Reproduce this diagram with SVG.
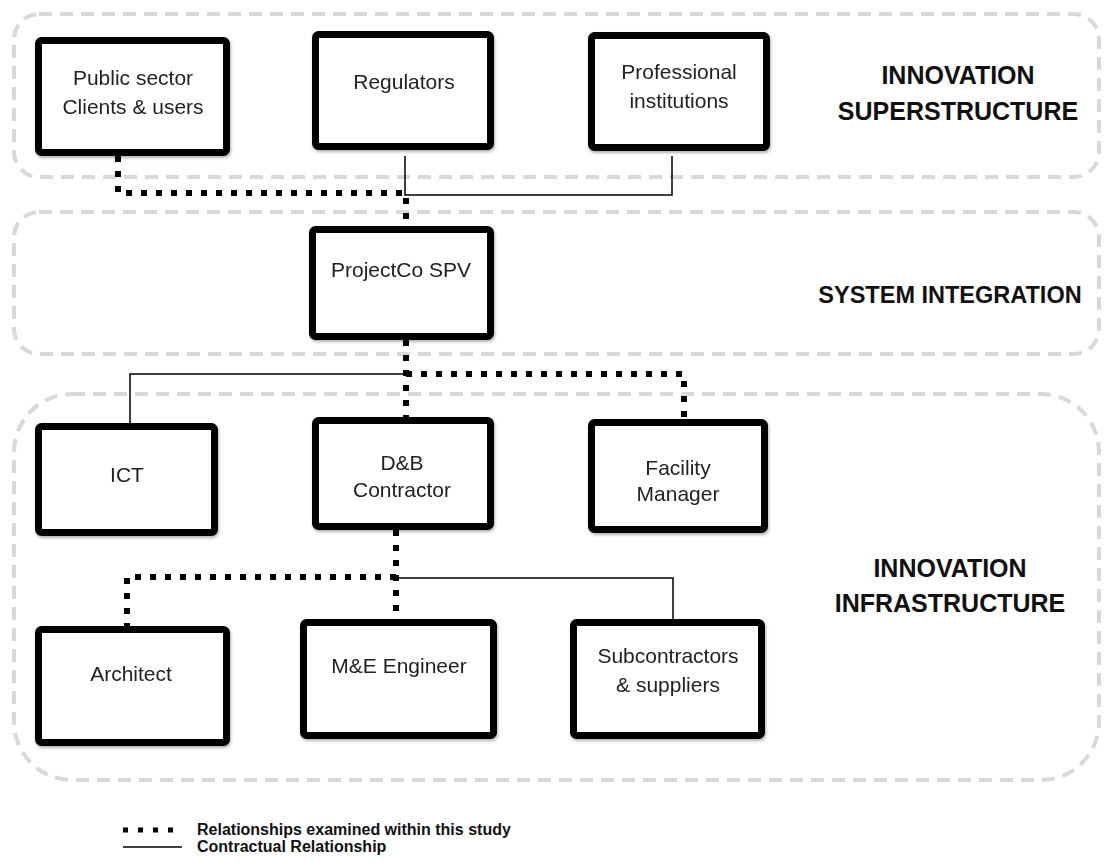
<svg xmlns="http://www.w3.org/2000/svg" width="1105" height="867" viewBox="0 0 1105 867">
<defs>
<filter id="sh" x="-10%" y="-10%" width="120%" height="130%">
<feDropShadow dx="1" dy="2" stdDeviation="1.5" flood-color="#000" flood-opacity="0.3"/>
</filter>
<style>
.panel{fill:none;stroke:#d9d9d9;stroke-width:4;stroke-dasharray:13 8}
.box{fill:#fff;stroke:#000;stroke-width:7}
.lbl{font-family:"Liberation Sans",Arial,sans-serif;font-size:21px;fill:#222;text-anchor:middle}
.hdr{font-family:"Liberation Sans",Arial,sans-serif;font-size:25px;font-weight:bold;fill:#111;text-anchor:middle}
.hdr2{font-family:"Liberation Sans",Arial,sans-serif;font-size:23.5px;font-weight:bold;fill:#111;text-anchor:middle}
.leg{font-family:"Liberation Sans",Arial,sans-serif;font-size:16px;font-weight:bold;fill:#111}
.dot{fill:none;stroke:#000;stroke-width:6;stroke-dasharray:6 9}
.sol{fill:none;stroke:#000;stroke-width:1.5}
</style>
</defs>
<rect width="1105" height="867" fill="#fff"/>
<g id="panels">
<rect id="panel-superstructure" class="panel" x="14" y="14" width="1085" height="163" rx="25"/>
<rect id="panel-integration" class="panel" x="14" y="212" width="1085" height="142" rx="25"/>
<rect id="panel-infrastructure" class="panel" x="14" y="394" width="1085" height="386" rx="58"/>
<text class="hdr" x="958" y="84">INNOVATION</text>
<text class="hdr" x="958" y="120">SUPERSTRUCTURE</text>
<text class="hdr2" x="950" y="303">SYSTEM INTEGRATION</text>
<text class="hdr" x="950" y="577">INNOVATION</text>
<text class="hdr" x="950" y="612">INFRASTRUCTURE</text>
</g>
<g id="connectors">
<path class="dot" d="M118 156 V193 H406 V226"/>
<path class="sol" d="M405 156 V195 H672 V156"/>
<path class="dot" d="M406 340 V417"/>
<path class="dot" d="M406 374 H684 V419"/>
<path class="sol" d="M406 374 H130 V423"/>
<path class="dot" d="M396 530 V619"/>
<path class="dot" d="M396 577 H127 V626"/>
<path class="sol" d="M396 578 H673 V619"/>
</g>
<g id="node-public" filter="url(#sh)"><rect class="box" x="38.5" y="40.5" width="188" height="112" rx="3"/>
<text class="lbl" x="133" y="85">Public sector</text><text class="lbl" x="133" y="114">Clients &amp; users</text></g>
<g id="node-regulators" filter="url(#sh)"><rect class="box" x="315.5" y="34.5" width="175" height="112" rx="3"/>
<text class="lbl" x="404" y="89">Regulators</text></g>
<g id="node-professional" filter="url(#sh)"><rect class="box" x="591.5" y="35.5" width="175" height="112" rx="3"/>
<text class="lbl" x="679" y="79">Professional</text><text class="lbl" x="679" y="108">institutions</text></g>
<g id="node-projectco" filter="url(#sh)"><rect class="box" x="312.5" y="229.5" width="178" height="107" rx="3"/>
<text class="lbl" x="401" y="277">ProjectCo SPV</text></g>
<g id="node-ict" filter="url(#sh)"><rect class="box" x="38.5" y="426.5" width="176" height="106" rx="3"/>
<text class="lbl" x="127" y="482">ICT</text></g>
<g id="node-db" filter="url(#sh)"><rect class="box" x="315.5" y="420.5" width="175" height="106" rx="3"/>
<text class="lbl" x="402" y="470">D&amp;B</text><text class="lbl" x="402" y="497">Contractor</text></g>
<g id="node-facility" filter="url(#sh)"><rect class="box" x="591.5" y="422.5" width="173" height="107" rx="3"/>
<text class="lbl" x="678" y="475">Facility</text><text class="lbl" x="678" y="501">Manager</text></g>
<g id="node-architect" filter="url(#sh)"><rect class="box" x="38.5" y="629.5" width="188" height="113" rx="3"/>
<text class="lbl" x="131" y="681">Architect</text></g>
<g id="node-me" filter="url(#sh)"><rect class="box" x="303.5" y="622.5" width="190" height="113" rx="3"/>
<text class="lbl" x="399" y="673">M&amp;E Engineer</text></g>
<g id="node-sub" filter="url(#sh)"><rect class="box" x="573.5" y="622.5" width="188" height="113" rx="3"/>
<text class="lbl" x="668" y="663">Subcontractors</text><text class="lbl" x="668" y="692">&amp; suppliers</text></g>
<g id="legend">
<path d="M123 830 H183" fill="none" stroke="#000" stroke-width="5" stroke-dasharray="5 10"/>
<text class="leg" x="197" y="835">Relationships examined within this study</text>
<path class="sol" d="M123 847 H182"/>
<text class="leg" x="197" y="852">Contractual Relationship</text>
</g>
</svg>
